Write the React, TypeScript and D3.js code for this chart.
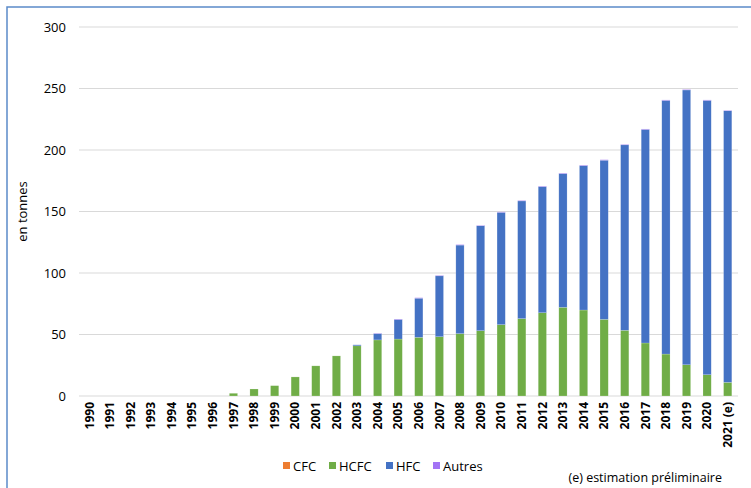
import React from "react";
import * as d3 from "d3";

const years = [
  "1990","1991","1992","1993","1994","1995","1996","1997","1998","1999",
  "2000","2001","2002","2003","2004","2005","2006","2007","2008","2009",
  "2010","2011","2012","2013","2014","2015","2016","2017","2018","2019",
  "2020","2021 (e)",
];
const cfc = [0,0,0,0,0,0,0,0,0,0, 0,0,0,0,0,0,0,0,0,0, 0,0,0,0,0,0,0,0,0,0, 0,0];
const hcfc = [0,0,0,0,0,0,0,2.2,5.7,8.4, 15.5,24.5,32.6,40.8,45.6,46.3,47.7,48.2,50.7,53.1, 58,62.9,67.7,72.1,69.9,62.3,53.4,43.1,34.1,25.4, 17.3,11.1];
const hfc = [0,0,0,0,0,0,0,0,0,0, 0,0,0,0.8,5.1,15.9,31.8,49.5,72,85.3, 91.3,95.7,102.5,108.7,117.4,129.4,150.8,173.6,206.2,223.4, 223,220.8];
const autres = [0,0,0,0,0,0,0,0,0,0, 0,0,0,0,0.3,0.4,0.4,0.4,0.4,0.4, 0.4,0.4,0.4,0.4,0.4,0.4,0.4,0.4,0.4,0.4, 0.4,0.4];
const yTicks = [0, 50, 100, 150, 200, 250, 300];
const seriesNames = ["CFC", "HCFC", "HFC", "Autres"];
const seriesColors = ["#ED7D31", "#70AD47", "#4472C4", "#A374F5"];

export default function App() {
  const W = 751, H = 488;
  const x0 = 79, x1 = 738, yTop = 27, yBot = 396;
  const x = d3.scaleBand<string>().domain(years).range([x0, x1]).paddingInner(0.6).paddingOuter(0.3);
  const y = d3.scaleLinear().domain([0, 300]).range([yBot, yTop]);

  const table = years.map((yr, i) => ({ year: yr, CFC: cfc[i], HCFC: hcfc[i], HFC: hfc[i], Autres: autres[i] }));
  const stacked = d3.stack<any>().keys(seriesNames)(table);

  const font = "'Open Sans', 'DejaVu Sans', sans-serif";

  const legendItems = [
    { x: 283, name: "CFC" },
    { x: 329, name: "HCFC" },
    { x: 386, name: "HFC" },
    { x: 433, name: "Autres" },
  ];

  return (
    <svg width={W} height={H} style={{ position: "absolute", left: 0, top: 0 }} fontFamily={font}>
      <rect x={0} y={0} width={W} height={H} fill="#fff" />
      <rect x={7} y={7} width={W + 20} height={H + 20} fill="none" stroke="#5B8BC9" strokeWidth={1.5} />
      {yTicks.map((t) => (
        <g key={t}>
          <line x1={x0} x2={x1} y1={y(t)} y2={y(t)} stroke="#d9d9d9" strokeWidth={1} />
          <text x={66} y={y(t)} dy="0.35em" textAnchor="end" fontSize={13} fill="#000">{t}</text>
        </g>
      ))}
      {stacked.map((s, si) => (
        <g key={s.key} fill={seriesColors[si]}>
          {s.map((d, i) => {
            const h = y(d[0]) - y(d[1]);
            if (h <= 0) return null;
            return (
              <rect key={i} x={x(years[i])} width={x.bandwidth()} y={y(d[1])} height={h} stroke="#fff" strokeOpacity={0.35} strokeWidth={0.5} />
            );
          })}
        </g>
      ))}
      {years.map((yr) => (
        <text
          key={yr}
          transform={`translate(${(x(yr) as number) + x.bandwidth() / 2},${yBot + 6}) rotate(-90)`}
          textAnchor="end"
          dy="0.35em"
          fontSize={12}
          fontWeight="bold"
          fill="#000"
        >{yr}</text>
      ))}
      <text transform={`translate(22,${(yTop + yBot) / 2}) rotate(-90)`} textAnchor="middle" dy="0.35em" fontSize={13} fill="#000">en tonnes</text>
      {legendItems.map((it, i) => (
        <g key={it.name}>
          <rect x={it.x} y={462} width={7} height={7} fill={seriesColors[i]} />
          <text x={it.x + 10} y={466} dy="0.35em" fontSize={13} fill="#000">{it.name}</text>
        </g>
      ))}
      <text x={722} y={478} textAnchor="end" dy="0.35em" fontSize={12.5} fill="#000">(e) estimation préliminaire</text>
    </svg>
  );
}
